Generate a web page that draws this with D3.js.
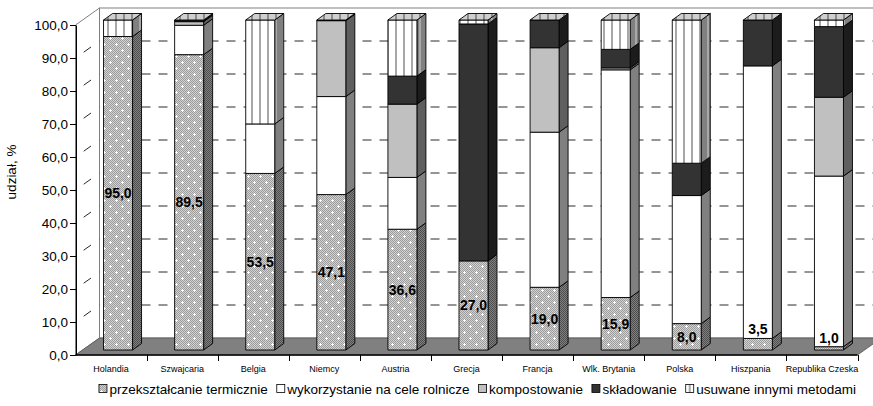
<!DOCTYPE html>
<html><head><meta charset="utf-8">
<script src="https://cdn.jsdelivr.net/npm/d3@7"></script>
<style>
html,body{margin:0;padding:0;background:#fff;}
svg{display:block;font-family:"Liberation Sans",Arial,sans-serif;}
</style></head>
<body>
<svg id="chart" width="873" height="406"></svg>
<script>
// ---- data ----
const categories = ["Holandia","Szwajcaria","Belgia","Niemcy","Austria","Grecja","Francja","Wlk. Brytania","Polska","Hiszpania","Republika Czeska"];
const seriesNames = ["przekształcanie termicznie","wykorzystanie na cele rolnicze","kompostowanie","składowanie","usuwane innymi metodami"];
const termiczne   = [95.0, 89.5, 53.5, 47.1, 36.6, 27.0, 19.0, 15.9, 8.0, 3.5, 1.0];
const rolnicze    = [0.0, 8.9, 15.0, 29.7, 15.7, 0.0, 47.0, 69.0, 38.8, 82.6, 51.7];
const kompost     = [0.0, 1.1, 0.0, 23.0, 22.2, 0.0, 25.6, 0.6, 0.0, 0.0, 23.9];
const skladowanie = [0.0, 0.5, 0.0, 0.2, 8.5, 71.8, 8.4, 5.6, 9.8, 13.9, 21.4];
const usuwane     = [5.0, 0.0, 31.5, 0.0, 17.0, 1.2, 0.0, 8.9, 43.4, 0.0, 2.0];
const yTicks = [0,10,20,30,40,50,60,70,80,90,100];
const yTitle = "udział, %";

const series = [termiczne, rolnicze, kompost, skladowanie, usuwane];

const svg = d3.select("#chart");
const defs = svg.append("defs");

// ---- patterns ----
function dither(id, base, dark, dots){
  const p = defs.append("pattern").attr("id",id).attr("patternUnits","userSpaceOnUse")
    .attr("width",12).attr("height",12);
  p.append("rect").attr("width",12).attr("height",12).attr("fill",base);
  for(let i=0;i<12;i++)for(let j=0;j<12;j++){ if((i+j)%2===0) p.append("rect").attr("x",i).attr("y",j).attr("width",1).attr("height",1).attr("fill",dark); }
  if(dots){
    [[2,2],[8,8]].forEach(([x,y])=>{
      p.append("rect").attr("x",x-1).attr("y",y).attr("width",3).attr("height",1).attr("fill","#fff");
      p.append("rect").attr("x",x).attr("y",y-1).attr("width",1).attr("height",3).attr("fill","#fff");
    });
  }
}
dither("termF","#d2d2d2","#9c9c9c",true);
dither("termS","#808080","#4e4e4e",false);
function stripes(id, base, stripe){
  const p = defs.append("pattern").attr("id",id).attr("patternUnits","userSpaceOnUse")
    .attr("width",8).attr("height",8);
  p.append("rect").attr("width",8).attr("height",8).attr("fill",base);
  p.append("rect").attr("x",3).attr("width",2).attr("height",8).attr("fill",stripe);
}
stripes("usuF","#ffffff","#a8a8a8");
stripes("usuS","#808080","#a8a8a8");
stripes("usuT","#cfcfcf","#8c8c8c");

const frontFill = ["url(#termF)","#ffffff","#c0c0c0","#333333","url(#usuF)"];
const sideFill  = ["url(#termS)","#808080","#5f5f5f","#1c1c1c","url(#usuS)"];
const topFill = "url(#usuT)";

// ---- geometry ----
const x0 = 75.5, x1 = 857.5;
const depthX = 24, depthY = -17;
const x = d3.scaleBand().domain(categories).range([x0,x1]).paddingInner(0).paddingOuter(0);
const yAxisS = d3.scaleLinear().domain([0,100]).range([355,25]);
const yBack  = d3.scaleLinear().domain([0,100]).range([355+depthY,25+depthY]);
const barShiftX = 7, barShiftY = -5;
const yBar = d3.scaleLinear().domain([0,100]).range([355+barShiftY,25+barShiftY]);
const barW = 29, sideDX = 9, sideDY = -6.5;

// walls
const walls = svg.append("g");
walls.append("rect").attr("x",x0+depthX).attr("y",yBack(100)).attr("width",x1-x0).attr("height",yBack(0)-yBack(100))
  .attr("fill","#fff").attr("stroke","#808080").attr("stroke-width",1);
walls.append("path").attr("d",`M${x0},${yAxisS(0)}L${x0},${yAxisS(100)}L${x0+depthX},${yBack(100)}L${x0+depthX},${yBack(0)}Z`)
  .attr("fill","#fff").attr("stroke","#808080").attr("stroke-width",1);

// gridlines
const grid = svg.append("g").attr("stroke","#2a2a2a").attr("stroke-width",1).attr("fill","none");
yTicks.filter(v=>v>0 && v<100).forEach(v=>{
  grid.append("line").attr("x1",x0+depthX).attr("x2",873).attr("y1",yBack(v)).attr("y2",yBack(v))
    .attr("stroke-dasharray","9,8").attr("stroke-dashoffset",-8);
  grid.append("line").attr("x1",x0).attr("y1",yAxisS(v)).attr("x2",x0+depthX).attr("y2",yBack(v))
    .attr("stroke-dasharray","9,10").attr("stroke-dashoffset",9);
});

// floor
svg.append("path").attr("d",`M${x0},${yAxisS(0)}L${x1},${yAxisS(0)}L${x1+depthX},${yBack(0)}L${x0+depthX},${yBack(0)}Z`)
  .attr("fill","#808080").attr("stroke","#555").attr("stroke-width",0.8);

// bars
const bars = svg.append("g").attr("stroke","#000").attr("stroke-width",0.9).attr("stroke-linejoin","round");
categories.forEach((c,i)=>{
  const bx = x(c) + x.bandwidth()/2 + barShiftX - barW/2;
  let cum = 0;
  series.forEach((s,k)=>{
    const v = s[i];
    if(v<=0){ return; }
    const yb = yBar(cum), yt = yBar(cum+v);
    bars.append("path").attr("d",`M${bx+barW},${yb}L${bx+barW+sideDX},${yb+sideDY}L${bx+barW+sideDX},${yt+sideDY}L${bx+barW},${yt}Z`)
      .attr("fill",sideFill[k]);
    bars.append("rect").attr("x",bx).attr("y",yt).attr("width",barW).attr("height",yb-yt).attr("fill",frontFill[k]);
    cum += v;
  });
  const yt = yBar(cum);
  bars.append("path").attr("d",`M${bx},${yt}L${bx+sideDX},${yt+sideDY}L${bx+barW+sideDX},${yt+sideDY}L${bx+barW},${yt}Z`)
    .attr("fill",topFill);
});

// value labels (termiczne)
const fmt = v => d3.format(".1f")(v).replace(".",",");
const labels = svg.append("g").attr("font-size",14).attr("font-weight","bold").attr("text-anchor","middle").attr("fill","#000");
categories.forEach((c,i)=>{
  const v = termiczne[i];
  const cx = x(c) + x.bandwidth()/2 + barShiftX;
  let cy = v < 5 ? yBar(v) - 9 : (yBar(0)+yBar(v))/2;
  labels.append("text").attr("x",cx).attr("y",cy).attr("dy","0.35em").text(fmt(v));
});

// y axis
const yAx = svg.append("g").attr("transform",`translate(${x0+0.5},0)`)
  .call(d3.axisLeft(yAxisS).tickValues(yTicks).tickFormat(fmt).tickSize(6).tickPadding(2).tickSizeOuter(0));
yAx.select(".domain").attr("stroke","#000");
yAx.selectAll(".tick line").attr("stroke","#000");
yAx.selectAll("text").attr("font-size",13.5).attr("font-family","'Liberation Sans',Arial,sans-serif").attr("fill","#000");

// x axis line & ticks
svg.append("line").attr("x1",x0).attr("x2",x1).attr("y1",yAxisS(0)).attr("y2",yAxisS(0)).attr("stroke","#000").attr("stroke-width",1.5);
const xt = svg.append("g");
categories.forEach((c,i)=>{
  const xb = x(c) + x.bandwidth();
  xt.append("line").attr("x1",Math.round(xb)+0.5).attr("x2",Math.round(xb)+0.5).attr("y1",yAxisS(0)).attr("y2",yAxisS(0)+6).attr("stroke","#000");
  xt.append("text").attr("x",x(c)+x.bandwidth()/2).attr("y",372).attr("text-anchor","middle")
    .attr("font-size",9).attr("fill","#000").text(c);
});

// y title
svg.append("text").attr("transform","translate(16,172) rotate(-90)").attr("text-anchor","middle")
  .attr("font-size",13.5).attr("fill","#000").text(yTitle);

// legend
const leg = svg.append("g").attr("font-size",13.5);
let lx = 0;
seriesNames.forEach((n,k)=>{
  const g = leg.append("g");
  g.append("rect").attr("x",0).attr("y",-4.5).attr("width",8).attr("height",8).attr("fill",frontFill[k]).attr("stroke","#000").attr("stroke-width",0.8);
  const t = g.append("text").attr("x",10.5).attr("y",0).attr("dy","0.35em").attr("fill","#000").text(n);
  const w = 10.5 + t.node().getComputedTextLength();
  g.attr("transform",`translate(${lx},0)`);
  lx += w + 9;
});
const total = lx - 9;
leg.attr("transform",`translate(${(97+858)/2 - total/2},389)`);
</script>
</body></html>
